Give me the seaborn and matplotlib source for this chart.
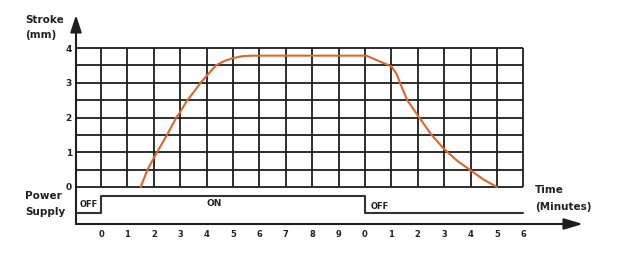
import matplotlib
matplotlib.use("Agg")
import matplotlib.pyplot as plt
import seaborn as sns
import pandas as pd

# ---- data ----
time_pos = [1.5, 1.76, 2.0, 2.12, 2.5, 2.85, 3.0, 3.25, 3.5, 3.77, 4.0, 4.35, 4.68, 5.0, 5.4, 5.8,
            10.05, 11.0, 11.2, 11.35, 11.6, 12.0, 12.5, 13.0, 13.5, 14.0, 14.5, 15.0]
stroke_mm = [0.0, 0.5, 0.84, 1.0, 1.5, 2.0, 2.16, 2.48, 2.72, 3.0, 3.2, 3.5, 3.63, 3.71, 3.77, 3.78,
             3.78, 3.47, 3.25, 2.95, 2.5, 2.06, 1.52, 1.09, 0.75, 0.48, 0.21, 0.0]
x_tick_labels = ["0", "1", "2", "3", "4", "5", "6", "7", "8", "9", "0", "1", "2", "3", "4", "5", "6"]
y_tick_labels = ["0", "1", "2", "3", "4"]
power_x = [-0.95, 0, 0, 10, 10, 16]
power_level = [-0.75, -0.75, -0.25, -0.25, -0.75, -0.75]

sns.set_theme(style="white")
plt.rcParams['font.family'] = ['DejaVu Sans']

fig = plt.figure(figsize=(6.18, 2.64), dpi=100)
W, H = 618, 264
ax = fig.add_axes([76 / W, 40 / H, (583 - 76) / W, (249 - 40) / H])
x0, x1 = -0.95, 18.26
y0, y1 = -1.065, 4.95
ax.set_xlim(x0, x1)
ax.set_ylim(y0, y1)
for s in ax.spines.values():
    s.set_visible(False)

grid_c = "#1e1e1e"
# grid
ax.vlines(range(0, 17), 0, 4, color=grid_c, lw=1.3, zorder=1)
ax.hlines([i * 0.5 for i in range(9)], x0, 16, color=grid_c, lw=1.3, zorder=1)

# axes with arrows
ax.plot([x0, x0], [y0, 4.6], color=grid_c, lw=1.5, zorder=2, clip_on=False)
ax.plot([x0, 17.7], [y0, y0], color=grid_c, lw=1.5, zorder=2, clip_on=False)
ax.annotate("", xy=(x0, y1), xytext=(x0, 4.45),
            arrowprops=dict(arrowstyle="-|>,head_length=0.85,head_width=0.28", color=grid_c, lw=1.5,
                            shrinkA=0, shrinkB=0),
            annotation_clip=False)
ax.annotate("", xy=(x1, y0), xytext=(17.5, y0),
            arrowprops=dict(arrowstyle="-|>,head_length=0.95,head_width=0.28", color=grid_c, lw=1.5,
                            shrinkA=0, shrinkB=0),
            annotation_clip=False)

# power supply
ax.plot(power_x, power_level, color="#333333", lw=1.5, zorder=2)

# stroke curve
df = pd.DataFrame({"t": time_pos, "s": stroke_mm})
sns.lineplot(data=df, x="t", y="s", sort=False, color="#dc6530", lw=1.5, ax=ax, zorder=3)
ax.set_xlabel("")
ax.set_ylabel("")

# ticks
ax.set_xticks(range(17))
ax.set_xticklabels(x_tick_labels, fontsize=6, fontweight="bold", color="#222222")
ax.set_yticks(range(5))
ax.set_yticklabels(y_tick_labels, fontsize=6.5, fontweight="bold", color="#222222")
ax.tick_params(axis="x", length=0, pad=4)
ax.tick_params(axis="y", length=0, pad=3)

# texts
tk = dict(fontweight="bold", color="#222222")
fig.text(25 / W, 1 - 20 / H, "Stroke", fontsize=7.5, va="center", ha="left", **tk)
fig.text(25 / W, 1 - 35 / H, "(mm)", fontsize=7.5, va="center", ha="left", **tk)
fig.text(25 / W, 1 - 196 / H, "Power", fontsize=7.5, va="center", ha="left", **tk)
fig.text(25 / W, 1 - 212 / H, "Supply", fontsize=7.5, va="center", ha="left", **tk)
fig.text(535 / W, 1 - 190 / H, "Time", fontsize=7.5, va="center", ha="left", **tk)
fig.text(535 / W, 1 - 207 / H, "(Minutes)", fontsize=7.5, va="center", ha="left", **tk)
ax.text(-0.47, -0.5, "OFF", fontsize=6, ha="center", va="center", **tk)
ax.text(4.3, -0.47, "ON", fontsize=6.5, ha="center", va="center", **tk)
ax.text(10.55, -0.55, "OFF", fontsize=6, ha="center", va="center", **tk)

fig.savefig("out.png", dpi=100, facecolor="white")
